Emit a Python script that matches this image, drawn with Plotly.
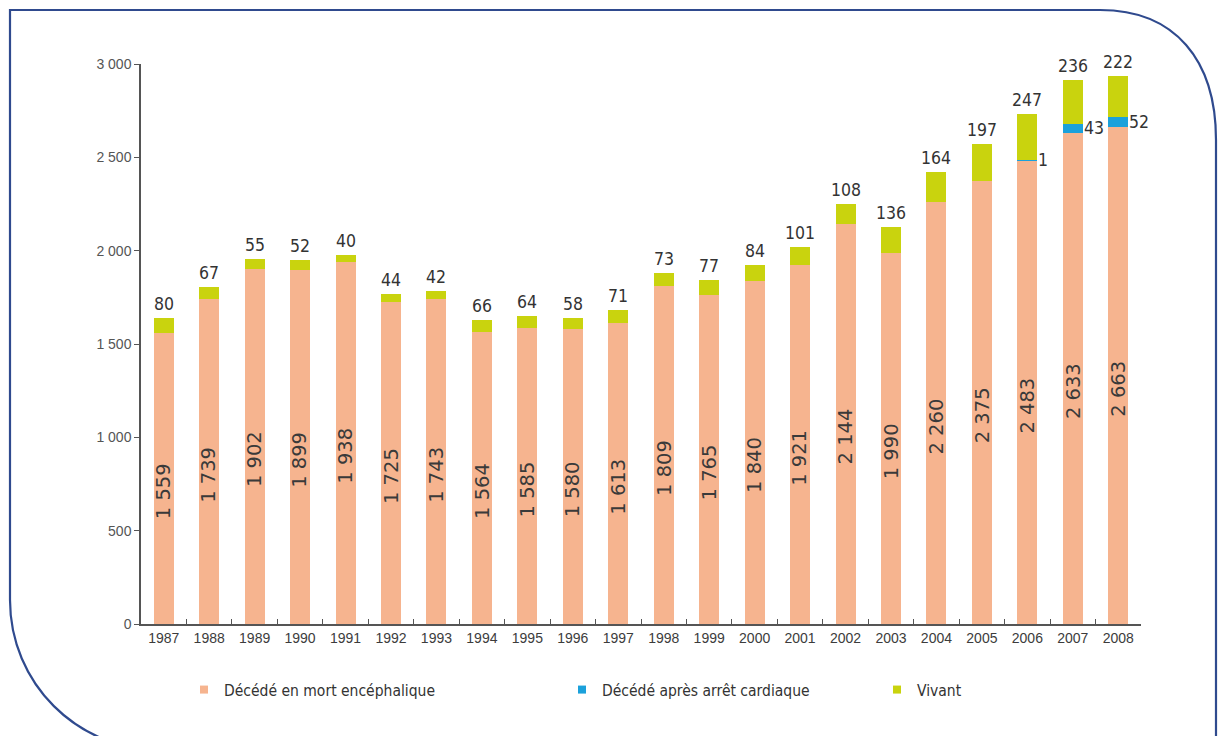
import plotly.graph_objects as go

years = ["1987", "1988", "1989", "1990", "1991", "1992", "1993", "1994", "1995", "1996", "1997",
         "1998", "1999", "2000", "2001", "2002", "2003", "2004", "2005", "2006", "2007", "2008"]
mort_encephalique = [1559, 1739, 1902, 1899, 1938, 1725, 1743, 1564, 1585, 1580, 1613,
                     1809, 1765, 1840, 1921, 2144, 1990, 2260, 2375, 2483, 2633, 2663]
arret_cardiaque = [0, 0, 0, 0, 0, 0, 0, 0, 0, 0, 0,
                   0, 0, 0, 0, 0, 0, 0, 0, 1, 43, 52]
vivant = [80, 67, 55, 52, 40, 44, 42, 66, 64, 58, 71,
          73, 77, 84, 101, 108, 136, 164, 197, 247, 236, 222]

y_tickvals = [0, 500, 1000, 1500, 2000, 2500, 3000]
y_ticktext = ["0", "500", "1 000", "1 500", "2 000", "2 500", "3 000"]

names = ["Décédé en mort encéphalique", "Décédé après arrêt cardiaque", "Vivant"]
colors = ["#F6B48F", "#1BA1DB", "#C9D30E"]

W, H = 1219, 736
ML, MR, MT, MB = 141, 78, 64, 112
PW, PH = W - ML - MR, H - MT - MB

NARROW = "DejaVu Sans Condensed, Liberation Sans, sans-serif"


def fmt(v):
    return f"{v:,}".replace(",", " ")


fig = go.Figure()
for vals, name, col in zip([mort_encephalique, arret_cardiaque, vivant], names, colors):
    fig.add_trace(go.Bar(x=years, y=vals, name=name, marker=dict(color=col, line=dict(width=0)),
                         showlegend=False))

legend_ids = ["legend", "legend2", "legend3"]
for name, col, lid in zip(names, colors, legend_ids):
    fig.add_trace(go.Scatter(x=[None], y=[None], mode="markers", name=name,
                             marker=dict(symbol="square", size=8, color=col),
                             legend=lid, showlegend=True))

for i, yr in enumerate(years):
    base = mort_encephalique[i]
    fig.add_annotation(x=i, y=base / 2, xref="x", yref="y", text=fmt(base), textangle=-90,
                       showarrow=False, yshift=-13,
                       font=dict(family="DejaVu Sans", size=19.5, color="#3a3a3a"))
    total = base + arret_cardiaque[i] + vivant[i]
    fig.add_annotation(x=i, y=total, xref="x", yref="y", text=str(vivant[i]), showarrow=False,
                       yanchor="bottom", yshift=2, font=dict(family=NARROW, size=17.5, color="#333333"))
    if arret_cardiaque[i] > 0:
        fig.add_annotation(x=i, y=base + arret_cardiaque[i] / 2, xref="x", yref="y",
                           text=str(arret_cardiaque[i]), showarrow=False, xanchor="left",
                           yanchor="middle", xshift=9,
                           font=dict(family=NARROW, size=17.5, color="#333333"))


def X(px):
    return (px - ML) / PW


def Y(py):
    return (MT + PH - py) / PH


border = (f"M {X(160)},{Y(750)} C {X(77)},{Y(750)} {X(10)},{Y(683)} {X(10)},{Y(600)} "
          f"L {X(10)},{Y(10)} L {X(1100)},{Y(10)} "
          f"C {X(1175)},{Y(10)} {X(1216)},{Y(60)} {X(1216)},{Y(140)} L {X(1216)},{Y(760)}")

legend_font = dict(family=NARROW, size=15.5, color="#333333")
leg_common = dict(orientation="h", yanchor="middle", xanchor="left", font=legend_font,
                  bgcolor="rgba(0,0,0,0)", itemwidth=30, borderwidth=0)

fig.update_layout(
    width=W, height=H,
    margin=dict(l=ML, r=MR, t=MT, b=MB),
    barmode="stack", bargap=0.56,
    plot_bgcolor="white", paper_bgcolor="white",
    xaxis=dict(type="category", range=[-0.5, 21.5], showline=True, linecolor="#555555", linewidth=1.5,
               ticks="inside", tickson="boundaries", ticklen=5, tickcolor="#555555", tickwidth=1.2,
               showgrid=False, zeroline=False,
               tickfont=dict(family="Liberation Sans", size=14, color="#3c3c3c")),
    yaxis=dict(range=[0, 3000], tickvals=y_tickvals, ticktext=y_ticktext, showline=True,
               linecolor="#555555", linewidth=1.5, ticks="outside", ticklen=5, tickcolor="#555555",
               tickwidth=1.2, showgrid=False, zeroline=False,
               tickfont=dict(family="Liberation Sans", size=14, color="#555555")),
    shapes=[dict(type="path", path=border, xref="paper", yref="paper",
                 line=dict(color="#2F4A8E", width=2.2), fillcolor="rgba(0,0,0,0)", layer="above")],
    legend=dict(x=X(184), y=Y(690), **leg_common),
    legend2=dict(x=X(562), y=Y(690), **leg_common),
    legend3=dict(x=X(877), y=Y(690), **leg_common),
)

fig.write_html("out.html", config={"displayModeBar": False},
               post_script="document.body.style.margin='0';document.body.style.overflow='hidden';")
